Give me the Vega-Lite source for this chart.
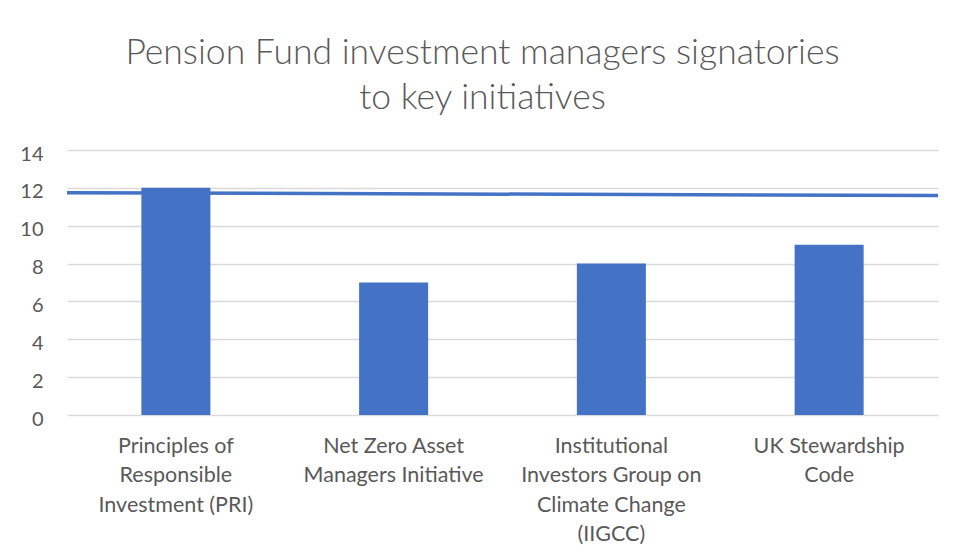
{
  "$schema": "https://vega.github.io/schema/vega-lite/v6.json",
  "autosize": {"type": "none"},
  "width": 871,
  "height": 265,
  "padding": {"left": 67, "top": 150, "right": 16, "bottom": 142},
  "background": "white",
  "title": {
    "text": ["Pension Fund investment managers signatories", "to key initiatives"],
    "font": "Lato",
    "fontWeight": 300,
    "fontSize": 35.5,
    "lineHeight": 45,
    "color": "#595959",
    "anchor": "middle",
    "dx": -20,
    "offset": 28
  },
  "datasets": {
    "bars": [
      {"initiative": "Principles of|Responsible|Investment (PRI)", "signatories": 12},
      {"initiative": "Net Zero Asset|Managers Initiative", "signatories": 7},
      {"initiative": "Institutional|Investors Group on|Climate Change|(IIGCC)", "signatories": 8},
      {"initiative": "UK Stewardship|Code", "signatories": 9}
    ],
    "marker": [
      {"pos": 0, "signatories": 11.74},
      {"pos": 1, "signatories": 11.6}
    ]
  },
  "encoding": {
    "y": {
      "field": "signatories",
      "type": "quantitative",
      "scale": {"domain": [0, 14], "nice": false},
      "axis": {
        "title": null,
        "values": [0, 2, 4, 6, 8, 10, 12, 14],
        "labelOverlap": false,
        "labelFont": "Lato",
        "labelFontSize": 20,
        "labelColor": "#595959",
        "labelPadding": 24,
        "labelOffset": 4,
        "ticks": false,
        "domain": false,
        "grid": true,
        "gridColor": "#d9d9d9",
        "gridWidth": 1.3
      }
    }
  },
  "layer": [
    {
      "data": {"name": "bars"},
      "mark": {"type": "bar", "color": "#4472C4"},
      "encoding": {
        "x": {
          "field": "initiative",
          "type": "nominal",
          "sort": null,
          "scale": {"paddingInner": 0.683, "paddingOuter": 0.3415},
          "axis": {
            "title": null,
            "labelAngle": 0,
            "labelExpr": "split(datum.label, '|')",
            "labelFont": "Lato",
            "labelFontSize": 21.5,
            "labelLineHeight": 29.5,
            "labelColor": "#595959",
            "labelPadding": 20,
            "labelBaseline": "top",
            "ticks": false,
            "domain": false,
            "labelLimit": 300
          }
        }
      }
    },
    {
      "data": {"name": "marker"},
      "mark": {"type": "line", "color": "#4472C4", "strokeWidth": 3.5, "strokeCap": "butt"},
      "encoding": {
        "x": {"field": "pos", "type": "quantitative", "scale": {"domain": [0, 1], "nice": false, "zero": false}, "axis": null}
      }
    }
  ],
  "resolve": {"scale": {"x": "independent"}},
  "config": {"view": {"stroke": null}}
}
